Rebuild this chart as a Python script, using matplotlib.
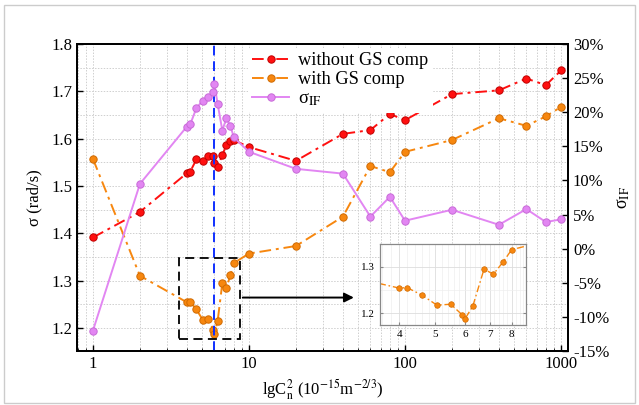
import matplotlib
matplotlib.use("Agg")
import matplotlib.pyplot as plt
from matplotlib.ticker import FixedLocator, FuncFormatter, MultipleLocator, NullFormatter, LogLocator
from matplotlib.patches import Rectangle

plt.rcParams['font.family'] = ['Liberation Serif', 'DejaVu Serif']
plt.rcParams['mathtext.fontset'] = 'stix'

# Turbulence strength Cn^2 (1e-15 m^-2/3)
cn2 = [1, 2, 4, 4.2, 4.6, 5.05, 5.5, 5.9, 6, 6.3, 6.75, 7.15, 7.6, 8,
       10, 20, 40, 60, 80, 100, 200, 400, 600, 800, 1000]

# sigma (rad/s) without GS compensation
sigma_no_gs = [1.391, 1.445, 1.527, 1.530, 1.556, 1.553, 1.564, 1.564, 1.548, 1.541,
               1.565, 1.586, 1.595, 1.597, 1.582, 1.553, 1.610, 1.618, 1.652, 1.639,
               1.694, 1.702, 1.727, 1.713, 1.744]

# sigma (rad/s) with GS compensation
sigma_gs = [1.557, 1.310, 1.254, 1.255, 1.239, 1.217, 1.219, 1.196, 1.187, 1.215,
            1.295, 1.284, 1.311, 1.337, 1.357, 1.373, 1.435, 1.542, 1.529, 1.572,
            1.597, 1.643, 1.627, 1.647, 1.667]

# sigma_IF (%)
sigma_if = [-12.0, 9.5, 17.9, 18.2, 20.6, 21.7, 22.2, 22.9, 24.1, 21.2,
            17.3, 19.1, 18.0, 16.3, 14.2, 11.7, 11.0, 4.7, 7.6, 4.1,
            5.7, 3.5, 5.8, 3.9, 4.3]

RED = '#ff1010'
ORANGE = '#f7870f'
VIOLET = '#e286f2'

fig = plt.figure(figsize=(6.39, 4.05), dpi=100)
ax = fig.add_axes([0.1205, 0.1333, 0.7685, 0.7581])
ax2 = ax.twinx()

# outer light frame
fig.patches.append(Rectangle((0.006, 0.006), 0.988, 0.982, transform=fig.transFigure,
                             fill=False, edgecolor='#cccccc', lw=1.0))

mk = dict(marker='o', markersize=5.3, markeredgewidth=0.7)
l1, = ax.plot(cn2, sigma_no_gs, color=RED, ls=(0, (6, 2.5, 1.5, 2.5)), lw=1.4,
              markerfacecolor=RED, markeredgecolor='#c00000', label='without GS comp', **mk)
l2, = ax.plot(cn2, sigma_gs, color=ORANGE, ls=(0, (6, 2.5, 1.5, 2.5)), lw=1.4,
              markerfacecolor=ORANGE, markeredgecolor='#d06a00', label='with GS comp', **mk)
l3, = ax2.plot(cn2, sigma_if, color=VIOLET, ls='-', lw=1.4,
               markerfacecolor=VIOLET, markeredgecolor='#c86ad8', label=r'σ$_\mathrm{IF}$', **mk)

ax.axvline(6, color='#1030ff', ls=(0, (5, 3)), lw=1.4, zorder=5)

ax.set_xscale('log')
ax.set_xlim(0.79, 1110)
ax.set_ylim(1.151, 1.8)
ax2.set_ylim(-15, 30)

ax.yaxis.set_major_locator(MultipleLocator(0.1))
ax.yaxis.set_minor_locator(MultipleLocator(0.05))
ax.yaxis.set_major_formatter(FuncFormatter(lambda v, p: f'{v:.1f}'))
ax.xaxis.set_major_formatter(FuncFormatter(lambda v, p: f'{v:g}'))
ax.xaxis.set_minor_locator(LogLocator(base=10, subs=range(2, 10)))
ax.xaxis.set_minor_formatter(NullFormatter())
ax2.yaxis.set_major_locator(MultipleLocator(5))
ax2.yaxis.set_major_formatter(FuncFormatter(lambda v, p: f'{v:.0f}%'))

ax.grid(True, which='both', color='#cfcfcf', ls=(0, (1.5, 1.5)), lw=0.7)
ax.set_axisbelow(True)

ax.tick_params(which='major', direction='in', length=4, width=1, labelsize=12)
ax.tick_params(which='minor', direction='in', length=0)
ax.tick_params(axis='x', which='minor', length=2)
ax2.tick_params(which='major', direction='in', length=4, width=1, labelsize=12)
for a in (ax, ax2):
    for s in a.spines.values():
        s.set_linewidth(1.3)

ax.set_ylabel('σ (rad/s)', fontsize=12, labelpad=6)
ax.set_xlabel(r'lgC$_\mathrm{n}^2$ (10$^{-15}$m$^{-2/3}$)', fontsize=12, labelpad=4)
ax2.set_ylabel(r'σ$_\mathrm{IF}$', fontsize=13, labelpad=4)

# zoom box and arrow
ax.add_patch(Rectangle((3.56, 1.176), 8.76 - 3.56, 1.348 - 1.176, fill=False,
                       edgecolor='black', ls=(0, (5, 3)), lw=1.3, zorder=6))
ax.annotate('', xy=(49, 1.264), xytext=(8.76, 1.264),
            arrowprops=dict(arrowstyle='-|>', color='black', lw=1.4, mutation_scale=14),
            zorder=6)

leg = ax2.legend(handles=[l1, l2, l3], loc='upper left', bbox_to_anchor=(0.34, 1.0),
                 frameon=True, framealpha=1, edgecolor='none', fontsize=13.2,
                 handlelength=2.0, handletextpad=0.5, borderaxespad=0.2,
                 borderpad=0.25, labelspacing=0.12)
leg.get_frame().set_linewidth(0)

# inset
axi = fig.add_axes([0.595, 0.1975, 0.2275, 0.2007])
axi.plot(cn2, sigma_gs, color=ORANGE, ls=(0, (5, 2, 1.2, 2)), lw=1.0,
         marker='o', markersize=4, markerfacecolor=ORANGE, markeredgecolor='#d06a00',
         markeredgewidth=0.5)
axi.set_xscale('log')
axi.set_xlim(3.56, 8.72)
axi.set_ylim(1.174, 1.35)
axi.xaxis.set_major_locator(FixedLocator([4, 5, 6, 7, 8]))
axi.xaxis.set_major_formatter(FuncFormatter(lambda v, p: f'{v:g}'))
axi.xaxis.set_minor_locator(FixedLocator([3.6, 3.8, 4.2, 4.4, 4.6, 4.8, 5.2, 5.4, 5.6, 5.8,
                                          6.2, 6.4, 6.6, 6.8, 7.2, 7.4, 7.6, 7.8, 8.2, 8.4, 8.6]))
axi.xaxis.set_minor_formatter(NullFormatter())
axi.yaxis.set_major_locator(FixedLocator([1.2, 1.3]))
axi.yaxis.set_minor_locator(MultipleLocator(0.05))
axi.grid(True, which='major', color='#dddddd', lw=0.6)
axi.grid(True, which='minor', color='#eeeeee', lw=0.5)
axi.set_axisbelow(True)
axi.tick_params(which='both', direction='in', labelsize=8, length=2, color='#888888',
                right=True, top=False)
axi.tick_params(which='minor', length=0)
for s in axi.spines.values():
    s.set_color('#888888')
    s.set_linewidth(0.9)

fig.savefig('out.png', dpi=100)
